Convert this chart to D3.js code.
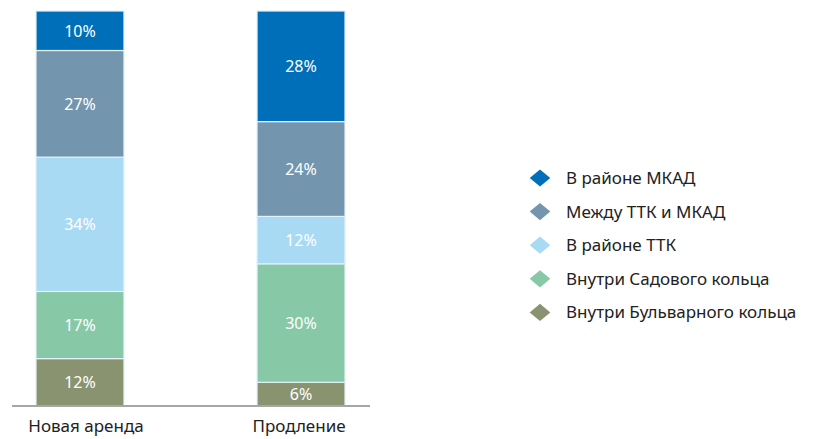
<!DOCTYPE html>
<html>
<head>
<meta charset="utf-8">
<script src="https://cdn.jsdelivr.net/npm/d3@7"></script>
<style>
  body { margin: 0; background: #fff; }
  text { font-family: "Noto Sans", "Open Sans", sans-serif; }
</style>
</head>
<body>
<script>
'use strict';

// categories along the x axis
const categories = ["Новая аренда", "Продление"];

// series, bottom to top
const seriesNames = ["Внутри Бульварного кольца", "Внутри Садового кольца", "В районе ТТК", "Между ТТК и МКАД", "В районе МКАД"];
const seriesColors = ["#8a9370", "#87c9a7", "#a9daf4", "#7396ae", "#006fb9"];

// shares per category, same order as seriesNames
const newLease = [12, 17, 34, 27, 10];
const renewal = [6, 30, 12, 24, 28];

// legend is listed top to bottom
const legendOrder = ["В районе МКАД", "Между ТТК и МКАД", "В районе ТТК", "Внутри Садового кольца", "Внутри Бульварного кольца"];

window.onload = function() {
  const width = 814, height = 439;
  const svg = d3.select("body").append("svg")
    .attr("width", width)
    .attr("height", height);

  const values = [newLease, renewal];

  // build stacked rows
  const rows = categories.map((c, i) => {
    let row = {cat: c};
    seriesNames.forEach((s, j) => { row[s] = values[i][j]; });
    return row;
  });
  const stacked = d3.stack().keys(seriesNames)(rows);

  const x = d3.scaleBand()
    .domain(categories)
    .range([36, 345])
    .paddingInner(0.602)
    .paddingOuter(0);

  const y = d3.scaleLinear()
    .domain([0, 100])
    .range([406, 11]);

  const color = d3.scaleOrdinal().domain(seriesNames).range(seriesColors);

  const layers = svg.selectAll(".layer")
    .data(stacked)
    .enter().append("g")
    .attr("class", "layer")
    .attr("fill", d => color(d.key));

  layers.selectAll("rect")
    .data(d => d)
    .enter().append("rect")
    .attr("x", d => x(d.data.cat))
    .attr("width", x.bandwidth())
    .attr("y", d => y(d[1]))
    .attr("height", d => y(d[0]) - y(d[1]))
    .attr("stroke", "#e4f1f8")
    .attr("stroke-width", 1.2);

  // value labels
  layers.selectAll("text")
    .data(d => d)
    .enter().append("text")
    .attr("x", d => x(d.data.cat) + x.bandwidth() / 2)
    .attr("y", d => (y(d[0]) + y(d[1])) / 2)
    .attr("dy", "0.36em")
    .attr("text-anchor", "middle")
    .attr("fill", "#fff")
    .style("font-size", "16px")
    .text(d => (d[1] - d[0]) + "%");

  // baseline
  svg.append("line")
    .attr("x1", 12).attr("x2", 370)
    .attr("y1", 406).attr("y2", 406)
    .attr("stroke", "#a6a6a6")
    .attr("stroke-width", 2);

  // x axis labels
  const xAxis = svg.append("g")
    .attr("transform", "translate(0,406)")
    .call(d3.axisBottom(x).tickSize(0).tickPadding(14));
  xAxis.select(".domain").remove();
  xAxis.selectAll("text")
    .style("font-size", "17px")
    .attr("fill", "#222")
    .attr("dx", (d, i) => i === 0 ? 6 : -2)
    .style("font-family", "'Noto Sans', sans-serif");

  // legend
  const legend = svg.selectAll(".legend")
    .data(legendOrder)
    .enter().append("g")
    .attr("class", "legend")
    .attr("transform", (d, i) => "translate(540," + (178 + i * 33.6) + ")");

  legend.append("path")
    .attr("d", d3.symbol().type(d3.symbolDiamond2).size(188))
    .attr("transform", "scale(1.2,1)")
    .attr("fill", d => color(d));

  legend.append("text")
    .attr("x", 26)
    .attr("dy", "0.35em")
    .attr("fill", "#222")
    .style("font-size", "17px")
    .text(d => d);
}
</script>
</body>
</html>
